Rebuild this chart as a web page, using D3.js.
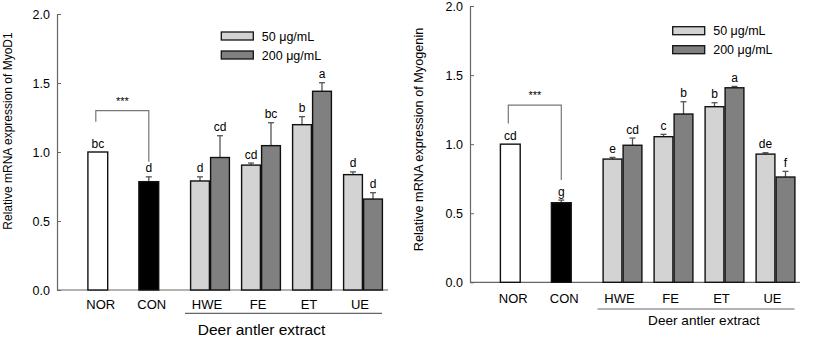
<!DOCTYPE html>
<html>
<head>
<meta charset="utf-8">
<script src="https://cdn.jsdelivr.net/npm/d3@7"></script>
<style>
  html, body { margin: 0; padding: 0; background: #fff; }
  svg { display: block; font-family: "Liberation Sans", Arial, sans-serif; }
</style>
</head>
<body>
<svg id="chart" width="827" height="341"></svg>
<script>
// ---- data ----
const controls = ["NOR", "CON"];
const extracts = ["HWE", "FE", "ET", "UE"];
const doses = ["50 μg/mL", "200 μg/mL"];
const groupTitle = "Deer antler extract";
const yTicks = [0, 0.5, 1.0, 1.5, 2.0];

// MyoD1
const myod1Control = [1.0, 0.785];
const myod1ControlErr = [0, 0.035];
const myod1ControlLetters = ["bc", "d"];
const myod1Low = [0.79, 0.905, 1.198, 0.836];
const myod1LowErr = [0.03, 0.015, 0.058, 0.02];
const myod1LowLetters = ["d", "cd", "b", "d"];
const myod1High = [0.96, 1.046, 1.44, 0.659];
const myod1HighErr = [0.158, 0.166, 0.062, 0.046];
const myod1HighLetters = ["cd", "bc", "a", "d"];
const myod1Bracket = [1.30, 1.22, 0.93]; // top, left leg end, right leg end

// Myogenin
const myogControl = [1.0, 0.576];
const myogControlErr = [0, 0.019];
const myogControlLetters = ["cd", "g"];
const myogLow = [0.892, 1.054, 1.271, 0.928];
const myogLowErr = [0.012, 0.017, 0.029, 0.01];
const myogLowLetters = ["e", "c", "b", "de"];
const myogHigh = [0.992, 1.218, 1.408, 0.762];
const myogHighErr = [0.052, 0.089, 0.01, 0.041];
const myogHighLetters = ["cd", "b", "a", "f"];
const myogBracket = [1.283, 1.15, 0.74];

// ---- styling ----
const controlFills = ["#ffffff", "#000000"];
const doseFills = ["#d3d3d3", "#808080"];
const axisColor = "#666";
const textColor = "#000";

const svg = d3.select("#chart");

function drawPanel(cfg) {
  const g = svg.append("g");
  const y = d3.scaleLinear().domain([0, 2]).range([cfg.y0, cfg.yTop]);
  // slot positions: controls at 0,1; extract pairs at 2.2, 3.2, ...
  const x = d3.scaleLinear().domain([0, 5.2]).range([cfg.x0, cfg.x0 + 51 * 5.2]);
  const slot = (i) => i < 2 ? i : i + 0.2;

  // x baseline
  g.append("line")
    .attr("x1", cfg.axisX).attr("x2", cfg.xEnd)
    .attr("y1", cfg.y0).attr("y2", cfg.y0)
    .attr("stroke", axisColor).attr("stroke-width", 1.2);

  // bars as a flat list
  const bars = [];
  cfg.control.forEach((v, i) => bars.push({
    v, err: cfg.controlErr[i], letter: cfg.controlLetters[i],
    cx: x(slot(i)), x0: x(slot(i)) - 10.5, w: 21, fill: controlFills[i]
  }));
  extracts.forEach((_, i) => {
    const c = x(slot(i + 2));
    bars.push({ v: cfg.low[i], err: cfg.lowErr[i], letter: cfg.lowLetters[i],
      cx: c - 10, x0: c - 20, w: 20, fill: doseFills[0] });
    bars.push({ v: cfg.high[i], err: cfg.highErr[i], letter: cfg.highLetters[i],
      cx: c + 10, x0: c, w: 20, fill: doseFills[1] });
  });

  // error bars (upper only)
  const eb = g.append("g").attr("stroke", "#555").attr("stroke-width", 1.3);
  bars.filter(d => d.err > 0).forEach(d => {
    eb.append("line").attr("x1", d.cx).attr("x2", d.cx)
      .attr("y1", y(d.v)).attr("y2", y(d.v + d.err));
    eb.append("line").attr("x1", d.cx - 3).attr("x2", d.cx + 3)
      .attr("y1", y(d.v + d.err)).attr("y2", y(d.v + d.err));
  });

  g.append("g").selectAll("rect").data(bars).join("rect")
    .attr("x", d => d.x0 + 0.6)
    .attr("y", d => y(d.v))
    .attr("width", d => d.w - 1.2)
    .attr("height", d => y(0) - y(d.v))
    .attr("fill", d => d.fill)
    .attr("stroke", "#111").attr("stroke-width", 1.4);

  // significance letters
  g.append("g").selectAll("text").data(bars).join("text")
    .attr("x", d => d.cx)
    .attr("y", d => y(d.v + d.err) - 4.5)
    .attr("text-anchor", "middle")
    .attr("font-size", 12).attr("fill", textColor)
    .text(d => d.letter);

  // y axis
  const ax = g.append("g").attr("transform", `translate(${cfg.axisX},0)`)
    .call(d3.axisLeft(y).tickValues(yTicks).tickFormat(d3.format(".1f"))
      .tickSizeInner(-4).tickSizeOuter(0).tickPadding(7));
  ax.select(".domain").attr("stroke", axisColor).attr("stroke-width", 1.2);
  ax.selectAll(".tick line").attr("stroke", axisColor);
  ax.selectAll(".tick text").attr("font-size", 12.5).attr("fill", textColor)
    .attr("font-family", "'Liberation Sans', Arial, sans-serif");

  // y title
  g.append("text")
    .attr("transform", `translate(${cfg.titleX},${cfg.titleY}) rotate(-90)`)
    .attr("text-anchor", "middle").attr("font-size", cfg.titleSize).attr("fill", textColor)
    .text(cfg.yTitle);

  // category labels
  const cats = controls.concat(extracts);
  g.append("g").selectAll("text").data(cats).join("text")
    .attr("x", (d, i) => x(slot(i)) + (i < 2 ? 3 : -3))
    .attr("y", cfg.y0 + cfg.labelDy)
    .attr("text-anchor", "middle").attr("font-size", 13).attr("fill", textColor)
    .text(d => d);

  // extract grouping line and title
  const lx1 = x(slot(2)) - 25, lx2 = x(slot(5)) + 19;
  g.append("line").attr("x1", lx1).attr("x2", lx2)
    .attr("y1", cfg.y0 + cfg.lineDy).attr("y2", cfg.y0 + cfg.lineDy)
    .attr("stroke", axisColor).attr("stroke-width", 1.2);
  g.append("text")
    .attr("x", (lx1 + lx2) / 2 + cfg.groupDx).attr("y", cfg.y0 + cfg.groupDy)
    .attr("text-anchor", "middle").attr("font-size", cfg.groupSize).attr("fill", textColor)
    .text(groupTitle);

  // NOR vs CON bracket
  const bx1 = x(0) - 2, bx2 = x(1);
  g.append("path")
    .attr("d", `M${bx1},${y(cfg.bracket[1])}V${y(cfg.bracket[0])}H${bx2}V${y(cfg.bracket[2])}`)
    .attr("fill", "none").attr("stroke", "#777").attr("stroke-width", 1.2);
  g.append("text")
    .attr("x", (bx1 + bx2) / 2).attr("y", y(cfg.bracket[0]) - 6)
    .attr("text-anchor", "middle").attr("font-size", 11).attr("fill", textColor)
    .text("***");

  // legend
  const lg = g.append("g").attr("transform", `translate(${cfg.legX},${cfg.legY})`);
  doses.forEach((d, i) => {
    lg.append("rect").attr("x", 0).attr("y", i * 19).attr("width", 32).attr("height", 8)
      .attr("fill", doseFills[i]).attr("stroke", "#111").attr("stroke-width", 1.3);
    lg.append("text").attr("x", 40.5).attr("y", i * 19 + 8.5)
      .attr("font-size", 12.5).attr("fill", textColor).text(d);
  });
}

drawPanel({
  axisX: 57, y0: 290, yTop: 14, x0: 97.8, xEnd: 388,
  yTitle: "Relative mRNA expression of MyoD1", titleX: 12, titleY: 131, titleSize: 12,
  labelDy: 19, lineDy: 23.3, groupDy: 45, groupDx: -22, groupSize: 15.5,
  legX: 221.3, legY: 32,
  control: myod1Control, controlErr: myod1ControlErr, controlLetters: myod1ControlLetters,
  low: myod1Low, lowErr: myod1LowErr, lowLetters: myod1LowLetters,
  high: myod1High, highErr: myod1HighErr, highLetters: myod1HighLetters,
  bracket: myod1Bracket
});

drawPanel({
  axisX: 470, y0: 282.3, yTop: 6, x0: 510.3, xEnd: 800,
  yTitle: "Relative mRNA expression of Myogenin", titleX: 423, titleY: 139.5, titleSize: 12.7,
  labelDy: 21, lineDy: 26.7, groupDy: 42.7, groupDx: 8, groupSize: 13.6,
  legX: 672.7, legY: 26.7,
  control: myogControl, controlErr: myogControlErr, controlLetters: myogControlLetters,
  low: myogLow, lowErr: myogLowErr, lowLetters: myogLowLetters,
  high: myogHigh, highErr: myogHighErr, highLetters: myogHighLetters,
  bracket: myogBracket
});
</script>
</body>
</html>
